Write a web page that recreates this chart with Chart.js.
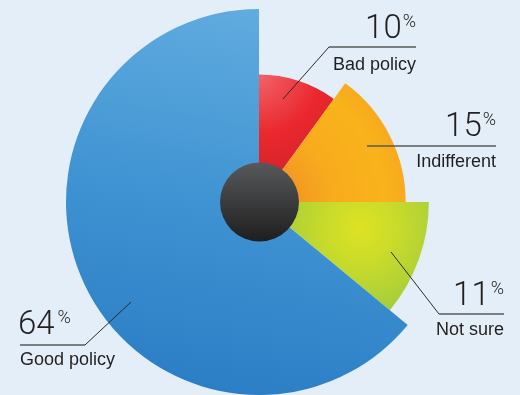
<!DOCTYPE html>
<html>
<head>
<meta charset="utf-8">
<script src="https://cdn.jsdelivr.net/npm/chart.js@4/dist/chart.umd.min.js"></script>
<style>
  html, body { margin: 0; padding: 0; background: #e3eef8; }
  #wrap { width: 520px; height: 395px; }
</style>
</head>
<body>
<div id="wrap"><canvas id="myChart" width="520" height="395"></canvas></div>
<script>
// survey answers, clockwise from 12 o'clock
let labels = ['Bad policy', 'Indifferent', 'Not sure', 'Good policy'];
let shares = [10, 15, 11, 64];          // percent of answers -> arc angle
let depth = [66, 76, 88, 100];          // arc length out from the hub (0..100)

// where each callout sits: leader start, elbow, underline end
let callouts = [
  { from: [283, 99],  elbow: [329, 47],  end: 416, side: 'right', numY: 38,  textY: 70 },
  { from: [367, 146], elbow: [367, 146], end: 496, side: 'right', numY: 136, textY: 167 },
  { from: [391, 252], elbow: [439, 314], end: 504, side: 'right', numY: 305, textY: 335 },
  { from: [131, 302], elbow: [85, 345],  end: 20,  side: 'left',  numY: 334, textY: 365 }
];

function sliceFill(c) {
  let chart = c.chart;
  let r = chart.scales.r;
  if (!r || r.xCenter === undefined) return '#888';
  let ctx = chart.ctx;
  let cx = r.xCenter, cy = r.yCenter;
  let rad = r.getDistanceFromCenterForValue(depth[c.dataIndex]);
  let g;
  if (c.dataIndex == 0) {
    g = ctx.createRadialGradient(cx, cy - rad, 0, cx, cy - rad, rad * 1.05);
    g.addColorStop(0, '#f2636a');
    g.addColorStop(0.45, '#ea282e');
    g.addColorStop(1, '#c71f29');
  } else if (c.dataIndex == 1) {
    g = ctx.createRadialGradient(cx, cy, 0, cx, cy, rad);
    g.addColorStop(0.27, '#f39a22');
    g.addColorStop(0.5, '#f8ab1d');
    g.addColorStop(0.85, '#f9b31b');
    g.addColorStop(1, '#f7aa1d');
  } else if (c.dataIndex == 2) {
    let gx = cx + rad * 0.62 * Math.sin(104 * Math.PI / 180);
    let gy = cy - rad * 0.62 * Math.cos(104 * Math.PI / 180);
    g = ctx.createRadialGradient(gx, gy, 0, gx, gy, rad * 0.56);
    g.addColorStop(0, '#dde222');
    g.addColorStop(0.35, '#cbdc2a');
    g.addColorStop(1, '#9fca3d');
  } else {
    g = ctx.createLinearGradient(cx - 20, cy - rad, cx - 90, cy + rad);
    g.addColorStop(0, '#60abdf');
    g.addColorStop(0.5, '#3f93d2');
    g.addColorStop(1, '#2a7dc4');
  }
  return g;
}

// dark hub in the middle and the callouts
const decor = {
  id: 'decor',
  afterDatasetsDraw(chart) {
    let ctx = chart.ctx;
    let r = chart.scales.r;
    let cx = r.xCenter + 0.5, cy = r.yCenter;

    let hub = ctx.createLinearGradient(0, cy - 40, 0, cy + 40);
    hub.addColorStop(0, '#58595a');
    hub.addColorStop(1, '#1e1e1f');
    ctx.save();
    ctx.beginPath();
    ctx.arc(cx, cy, 39.5, 0, Math.PI * 2);
    ctx.fillStyle = hub;
    ctx.fill();

    for (let i = 0; i < labels.length; i++) {
      let o = callouts[i];
      // leader
      ctx.beginPath();
      ctx.strokeStyle = '#2b2b2b';
      ctx.lineWidth = 1;
      ctx.moveTo(o.from[0], o.from[1]);
      ctx.lineTo(o.elbow[0], o.elbow[1]);
      ctx.stroke();
      // underline
      ctx.beginPath();
      ctx.strokeStyle = '#5a5a5a';
      ctx.lineWidth = 1.4;
      ctx.moveTo(o.elbow[0], o.elbow[1]);
      ctx.lineTo(o.end, o.elbow[1]);
      ctx.stroke();

      ctx.fillStyle = '#231f20';
      ctx.textBaseline = 'alphabetic';
      let numFont = '300 33px Roboto, "Liberation Sans", sans-serif';
      let pctFont = '300 18px Roboto, "Liberation Sans", sans-serif';
      let num = String(shares[i]);
      if (o.side == 'right') {
        ctx.font = pctFont;
        ctx.textAlign = 'right';
        let pw = ctx.measureText('%').width;
        ctx.fillText('%', o.end, o.numY - 11);
        ctx.font = numFont;
        ctx.fillText(num, o.end - pw - 1, o.numY);
        ctx.font = '18px "Liberation Sans", Arial, sans-serif';
        ctx.fillText(labels[i], o.end, o.textY);
      } else {
        ctx.font = numFont;
        ctx.textAlign = 'left';
        let nw = ctx.measureText(num).width;
        ctx.fillText(num, o.end - 2, o.numY);
        ctx.font = pctFont;
        ctx.fillText('%', o.end - 2 + nw + 3, o.numY - 11);
        ctx.font = '18px "Liberation Sans", Arial, sans-serif';
        ctx.fillText(labels[i], o.end, o.textY);
      }
    }
    ctx.restore();
  }
};

const config = {
  type: 'polarArea',
  data: {
    labels: labels,
    datasets: [{
      data: depth,
      angle: shares.map(s => s * 3.6),
      backgroundColor: sliceFill,
      borderWidth: 0
    }]
  },
  options: {
    responsive: false,
    animation: false,
    layout: { padding: { left: 0, right: 2, top: 9, bottom: 0 } },
    scales: {
      r: { min: 0, max: 100, startAngle: 0, display: false }
    },
    plugins: {
      legend: { display: false },
      tooltip: { enabled: false }
    }
  },
  plugins: [decor]
};

const myChart = new Chart(document.getElementById('myChart'), config);
</script>
</body>
</html>
